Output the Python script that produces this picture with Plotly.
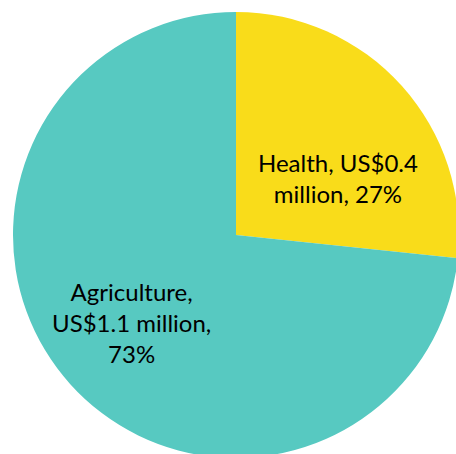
import plotly.graph_objects as go

sectors = ["Health", "Agriculture"]
values_musd = [0.4, 1.1]
percent_labels = [27, 73]
colors = ["#F9DC1A", "#57C9C1"]

# canvas slightly larger than the window so the pie is cropped at right/bottom
W, H = 460, 458

texts = [
    f"{sectors[0]}, US${values_musd[0]}<br>million, {percent_labels[0]}%",
    f"{sectors[1]},<br>US${values_musd[1]} million,<br>{percent_labels[1]}%",
]

fig = go.Figure(go.Pie(
    labels=sectors,
    values=values_musd,
    sort=False,
    direction="clockwise",
    rotation=0,
    marker=dict(colors=colors, line=dict(width=0)),
    textinfo="none",
    hoverinfo="label+value+percent",
    showlegend=False,
    domain=dict(x=[13 / W, 459 / W], y=[0, 1 - 12 / H]),
))

font = dict(family="Lato", size=24, color="#000000")
fig.add_annotation(x=338 / W, y=1 - 178 / H, xref="paper", yref="paper",
                   text=texts[0], showarrow=False, font=font,
                   xanchor="center", yanchor="middle", align="center")
fig.add_annotation(x=131.5 / W, y=1 - 322 / H, xref="paper", yref="paper",
                   text=texts[1], showarrow=False, font=font,
                   xanchor="center", yanchor="middle", align="center")

fig.update_layout(
    width=W, height=H,
    margin=dict(l=0, r=0, t=0, b=0),
    paper_bgcolor="white",
    plot_bgcolor="white",
)

fig.write_html(
    "out.html",
    config={"displayModeBar": False},
    post_script="document.body.style.margin='0';"
                "document.documentElement.style.overflow='hidden';"
                "document.body.style.overflow='hidden';",
)
